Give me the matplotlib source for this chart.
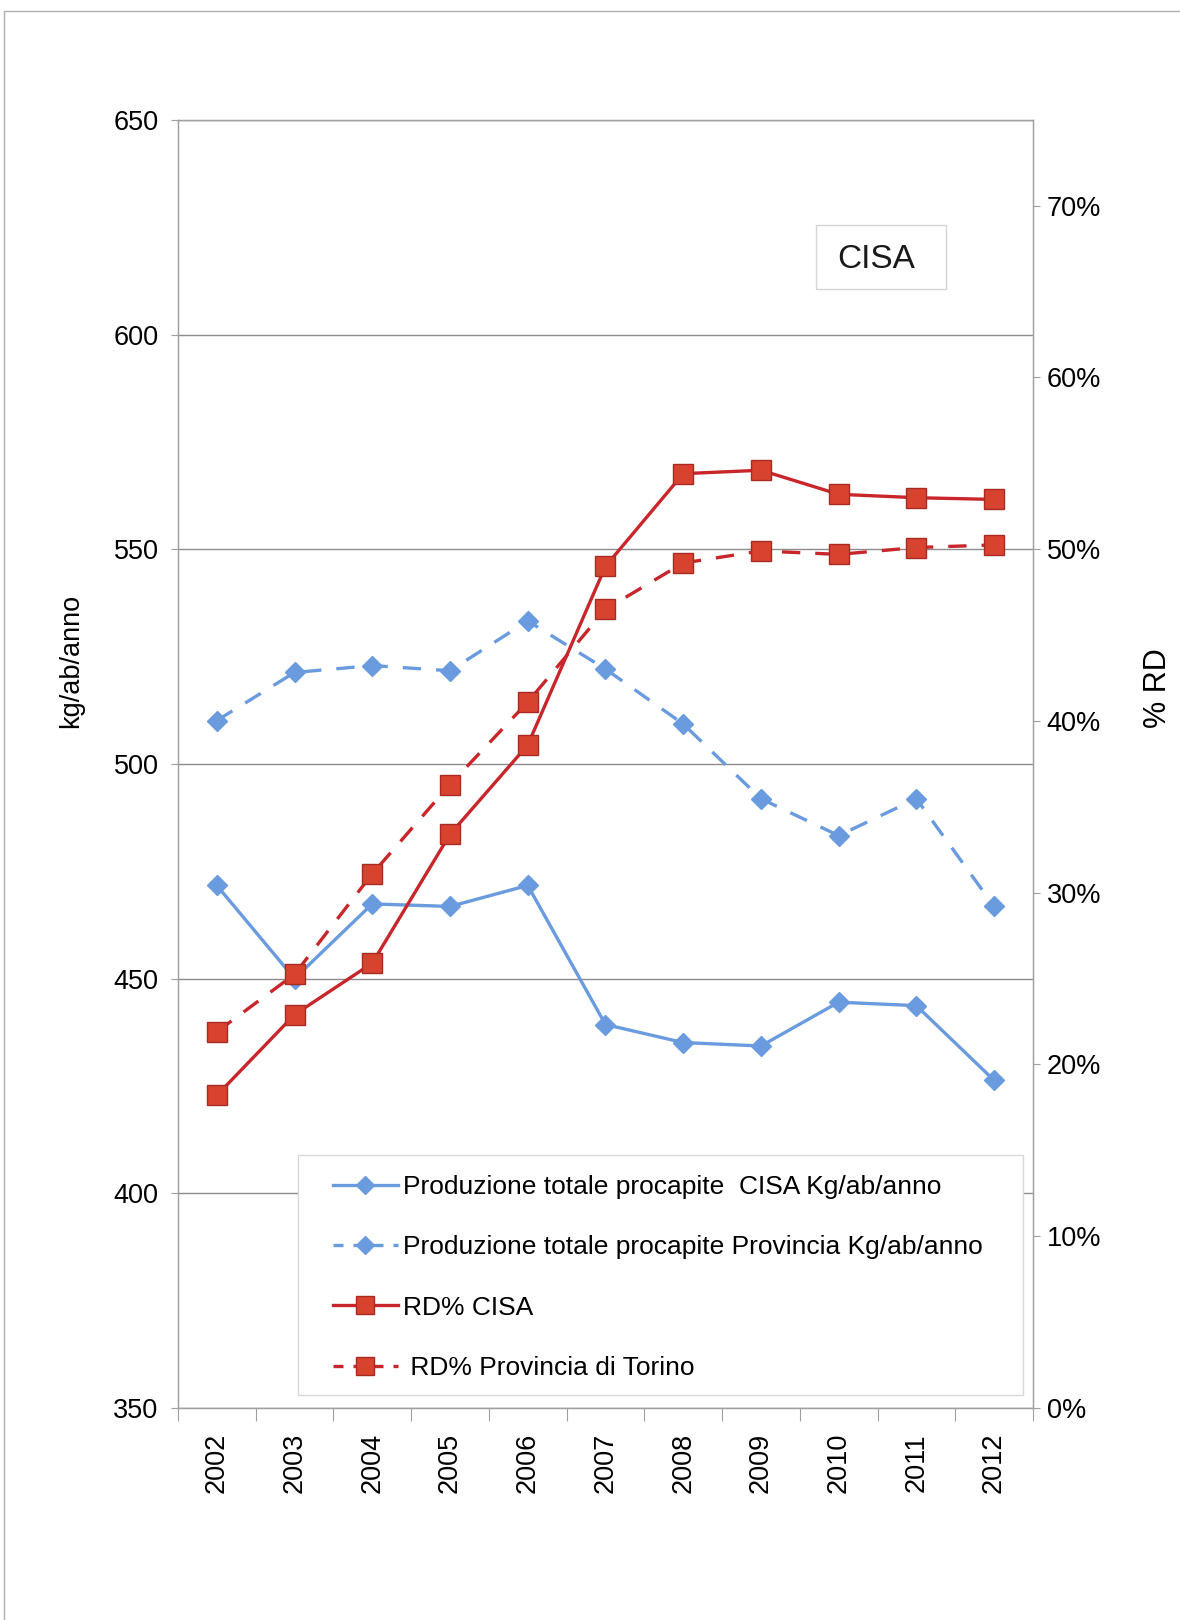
import numpy as np
import matplotlib
matplotlib.use("Agg")
import matplotlib.pyplot as plt
from matplotlib.lines import Line2D
from matplotlib.patches import Rectangle
from matplotlib.ticker import FixedLocator, PercentFormatter

plt.rcParams['font.family'] = ['Liberation Sans', 'DejaVu Sans']

# data
years = ['2002', '2003', '2004', '2005', '2006', '2007', '2008', '2009', '2010', '2011', '2012']
prod_cisa = [471.7, 450.0, 467.4, 466.8, 471.7, 439.3, 435.1, 434.3, 444.5, 443.7, 426.3]
prod_prov = [510.1, 521.3, 522.9, 521.7, 533.3, 522.1, 509.3, 491.9, 483.3, 491.9, 466.8]
rd_cisa = [18.2, 22.9, 25.9, 33.4, 38.6, 49.0, 54.4, 54.6, 53.2, 53.0, 52.9]
rd_prov = [21.9, 25.25, 31.1, 36.3, 41.1, 46.5, 49.2, 49.9, 49.7, 50.1, 50.25]

labels = ['Produzione totale procapite  CISA Kg/ab/anno',
          'Produzione totale procapite Provincia Kg/ab/anno',
          'RD% CISA',
          ' RD% Provincia di Torino']

blue = '#6A9BDE'
red_line = '#C8262A'
red_face = '#D8432F'
red_edge = '#A82A22'
grid_col = '#8c8c8c'
frame_col = '#a0a0a0'

fig = plt.figure(figsize=(11.8, 16.2), dpi=100)
fig.patch.set_facecolor('white')
# outer border of the pasted chart
fig.add_artist(Rectangle((0.003, -0.05), 1.2, 0.9935 + 0.05, transform=fig.transFigure,
                         fill=False, edgecolor='#b0b0b0', lw=1.0))

ax = fig.add_axes([0.1508, 0.1309, 0.7246, 0.7951])
ax2 = ax.twinx()

x = np.arange(len(years))

ax.plot(x, prod_cisa, color=blue, lw=2.4, marker='D', ms=10,
        mfc=blue, mec=blue, zorder=3)
ax.plot(x, prod_prov, color=blue, lw=2.4, ls=(0, (5.5, 4.5)), marker='D', ms=10,
        mfc=blue, mec=blue, zorder=3)
ax2.plot(x, rd_cisa, color=red_line, lw=2.4, marker='s', ms=14,
         mfc=red_face, mec=red_edge, mew=1.0, zorder=3)
ax2.plot(x, rd_prov, color=red_line, lw=2.4, ls=(0, (5.5, 4.5)), marker='s', ms=14,
         mfc=red_face, mec=red_edge, mew=1.0, zorder=3)

# left axis
ax.set_xlim(-0.5, len(years) - 0.5)
ax.set_ylim(350, 650)
ax.set_yticks(np.arange(350, 651, 50))
ax.yaxis.grid(True, color=grid_col, lw=1.0)
ax.set_axisbelow(True)
ax.tick_params(axis='y', labelsize=19.5, length=5, width=0.8, color=frame_col, pad=9)

# category axis with ticks between categories
ax.set_xticks(x)
ax.set_xticklabels(years, rotation=90, fontsize=19.5)
ax.tick_params(axis='x', length=0, pad=18)
ax.xaxis.set_minor_locator(FixedLocator(np.arange(-0.5, len(years), 1.0)))
ax.tick_params(axis='x', which='minor', length=9, width=0.8, color=frame_col)

# right axis
ax2.set_ylim(0, 75)
ax2.set_yticks(np.arange(0, 71, 10))
ax2.yaxis.set_major_formatter(PercentFormatter(decimals=0))
ax2.tick_params(axis='y', labelsize=19.5, length=5, width=0.8, color=frame_col, pad=5)

for a in (ax, ax2):
    for s in a.spines.values():
        s.set_color(frame_col)
        s.set_linewidth(0.9)

# axis titles
fig.text(0.0602, 0.592, 'kg/ab/anno', rotation=90, fontsize=19.5,
         ha='center', va='center')
fig.text(0.9814, 0.5753, '% RD', rotation=90, fontsize=22,
         ha='center', va='center')

# "CISA" box
ax2.add_patch(Rectangle((0.746, 0.8688), 0.152, 0.0497, transform=ax2.transAxes,
                        fc='white', ec='#d4d4d4', lw=1.0, zorder=8))
ax2.text(0.8164, 0.8851, 'CISA', transform=ax2.transAxes, fontsize=24,
         ha='center', va='baseline', color='#1a1a1a', zorder=9)

# legend: white box drawn separately so the padding can differ per side
ax2.add_patch(Rectangle((0.1404, 0.0101), 0.848, 0.1863, transform=ax2.transAxes,
                        fc='white', ec='#d8d8d8', lw=1.0, zorder=9))
handles = [
    Line2D([], [], color=blue, lw=2.4, marker='D', ms=9, mfc=blue, mec=blue),
    Line2D([], [], color=blue, lw=2.4, ls=(0, (3, 3)), marker='D', ms=9, mfc=blue, mec=blue),
    Line2D([], [], color=red_line, lw=2.4, marker='s', ms=13, mfc=red_face, mec=red_edge),
    Line2D([], [], color=red_line, lw=2.4, ls=(0, (3, 3)), marker='s', ms=13, mfc=red_face, mec=red_edge),
]
leg = ax2.legend(handles, labels, loc='upper left', bbox_to_anchor=(0.1813, 0.181),
                 fontsize=19, frameon=False, borderpad=0.0, labelspacing=1.38,
                 handlelength=2.46, handletextpad=0.19, borderaxespad=0.0)
leg.set_zorder(10)

fig.savefig('out.png', dpi=100, facecolor='white')
